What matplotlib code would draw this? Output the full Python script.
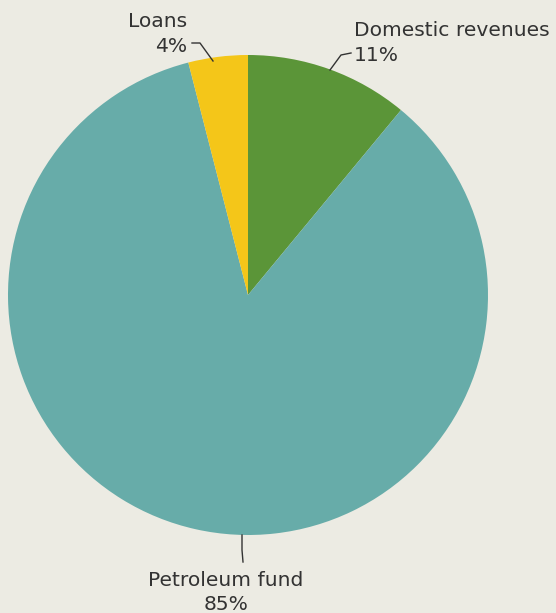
import matplotlib.pyplot as plt

# dados do gráfico
categorias = ['Domestic revenues', 'Petroleum fund', 'Loans']
percentuais = [11, 85, 4]
cores = ['#5B9538', '#67ACA9', '#F4C619']

fundo = '#ECEBE3'
texto = '#333333'
H = 613  # altura em pixels, usada para converter y

fig = plt.figure(figsize=(5.56, 6.13), dpi=100, facecolor=fundo)
ax = fig.add_axes([0, 0, 1, 1])
ax.set_facecolor(fundo)

ax.pie(percentuais, colors=cores, startangle=90, counterclock=False,
       center=(248, H - 295), radius=240,
       wedgeprops=dict(linewidth=0))

ax.set_xlim(0, 556)
ax.set_ylim(0, H)
ax.set_aspect('equal')
ax.axis('off')

fonte = dict(family=['DejaVu Sans'], fontsize=14.6, color=texto)

# rótulos
ax.text(187, H - 27, categorias[2], ha='right', va='baseline', **fonte)
ax.text(187, H - 52, f'{percentuais[2]}%', ha='right', va='baseline', **fonte)

ax.text(354, H - 36, categorias[0], ha='left', va='baseline', **fonte)
ax.text(354, H - 61, f'{percentuais[0]}%', ha='left', va='baseline', **fonte)

ax.text(226, H - 586, categorias[1], ha='center', va='baseline', **fonte)
ax.text(226, H - 610, f'{percentuais[1]}%', ha='center', va='baseline', **fonte)

# linhas de chamada
linha = dict(color=texto, linewidth=1)
ax.plot([192, 200, 213], [H - 43, H - 43, H - 61], **linha)
ax.plot([351, 341, 330], [H - 53, H - 55, H - 70], **linha)
ax.plot([242, 242, 243], [H - 535, H - 550, H - 562], **linha)

fig.savefig('out.png', dpi=100, facecolor=fundo)
